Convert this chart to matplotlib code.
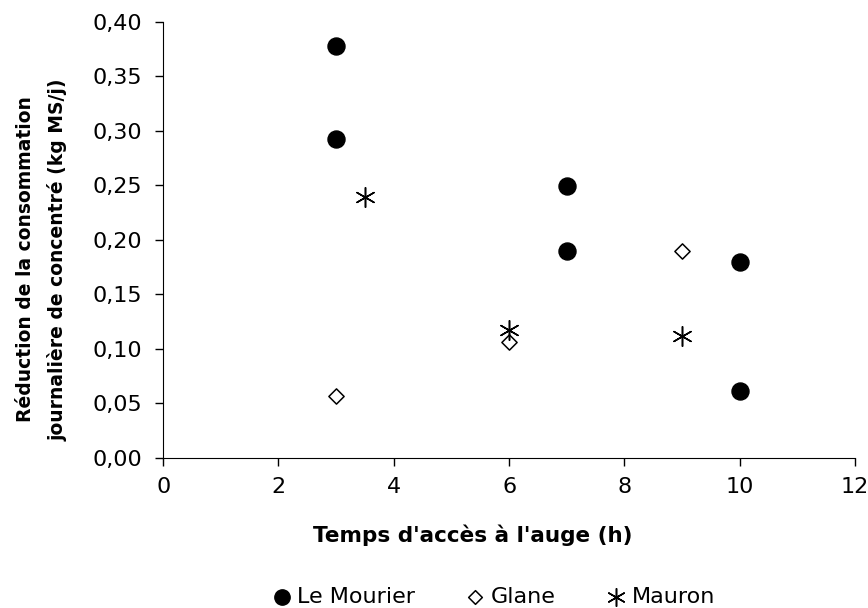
import matplotlib.pyplot as plt
from matplotlib.ticker import FuncFormatter

plt.rcParams['font.family'] = ['DejaVu Sans']

# Le Mourier
mourier_x = [3, 3, 7, 7, 10, 10]
mourier_y = [0.378, 0.293, 0.249, 0.190, 0.180, 0.061]
# Glane
glane_x = [3, 6, 9]
glane_y = [0.057, 0.106, 0.190]
# Mauron
mauron_x = [3.5, 6, 9]
mauron_y = [0.239, 0.117, 0.112]

fig = plt.figure(figsize=(8.68, 6.08), dpi=100)
ax = fig.add_axes([0.188, 0.247, 0.797, 0.717])

ax.scatter(mourier_x, mourier_y, marker='o', s=150, color='black', label='Le Mourier', zorder=3)
ax.scatter(glane_x, glane_y, marker='D', s=60, facecolors='white', edgecolors='black',
           linewidths=1.1, label='Glane', zorder=3)
ax.scatter(mauron_x, mauron_y, marker=(6, 2, 0), s=200, color='black', linewidths=1.1,
           label='Mauron', zorder=3)

ax.set_xlim(0, 12)
ax.set_ylim(0, 0.40)
ax.set_xticks(range(0, 13, 2))
ax.set_yticks([i * 0.05 for i in range(9)])
ax.yaxis.set_major_formatter(FuncFormatter(lambda v, p: f'{v:.2f}'.replace('.', ',')))
ax.spines['top'].set_visible(False)
ax.spines['right'].set_visible(False)
ax.tick_params(axis='both', labelsize=16, length=6, width=1, direction='out')
ax.tick_params(axis='x', pad=7.5)
ax.tick_params(axis='y', pad=9)

ax.set_xlabel("Temps d'accès à l'auge (h)", fontsize=15.5, fontweight='bold',
              labelpad=20, x=0.447)
ax.set_ylabel("Réduction de la consommation\njournalière de concentré (kg MS/j)",
              fontsize=13.5, fontweight='bold', labelpad=18, linespacing=1.8, y=0.455)

fig.legend(loc='center', bbox_to_anchor=(0.569, 0.018), ncol=3, frameon=False,
           fontsize=16, handlelength=0.8, handletextpad=0.3, columnspacing=2.3,
           markerscale=0.9)

plt.savefig('out.png')
plt.close()
